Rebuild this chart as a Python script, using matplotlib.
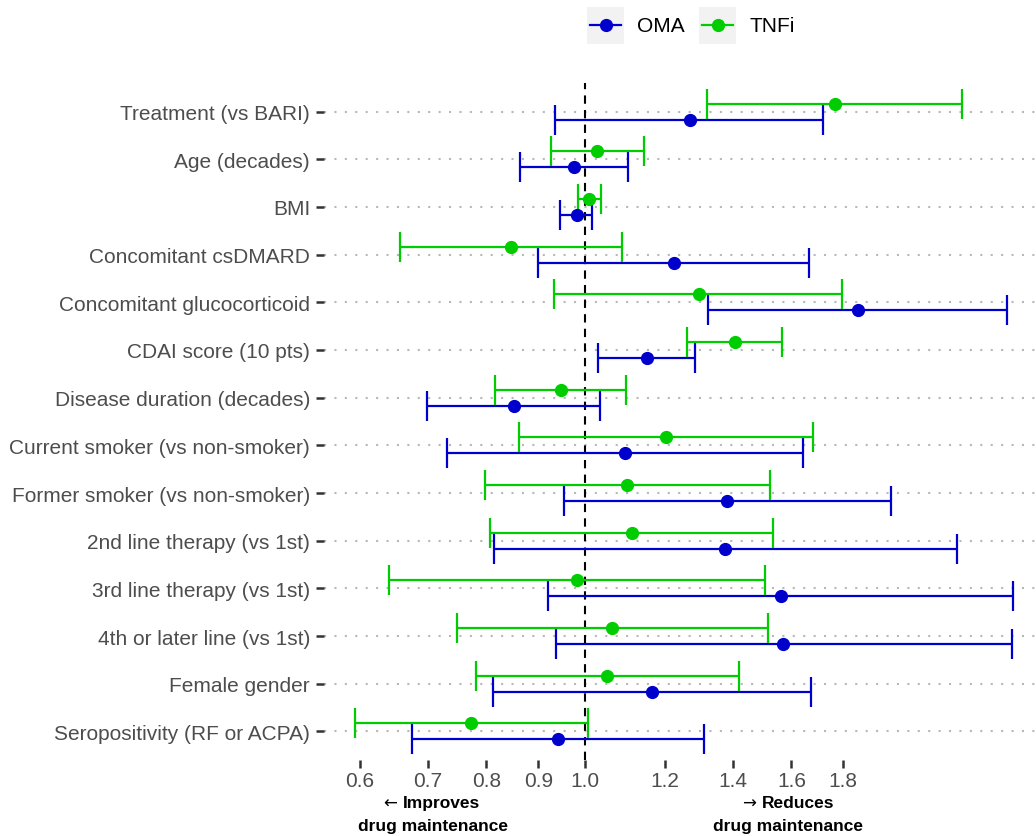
import numpy as np
import matplotlib.pyplot as plt
import matplotlib.transforms as mtransforms
from matplotlib.lines import Line2D
from matplotlib.patches import Rectangle
from matplotlib.ticker import FixedLocator, NullLocator

plt.rcParams['font.family'] = ['Liberation Sans', 'DejaVu Sans']

# covariates, top to bottom
labels = ["Treatment (vs BARI)", "Age (decades)", "BMI", "Concomitant csDMARD",
          "Concomitant glucocorticoid", "CDAI score (10 pts)", "Disease duration (decades)",
          "Current smoker (vs non-smoker)", "Former smoker (vs non-smoker)",
          "2nd line therapy (vs 1st)", "3rd line therapy (vs 1st)",
          "4th or later line (vs 1st)", "Female gender", "Seropositivity (RF or ACPA)"]

# hazard ratios with 95% CI
oma_hr = [1.27, 0.977, 0.982, 1.225, 1.86, 1.152, 0.851, 1.097, 1.382, 1.377, 1.561, 1.571, 1.166, 0.941]
oma_lo = [0.935, 0.864, 0.946, 0.900, 1.325, 1.032, 0.699, 0.732, 0.955, 0.813, 0.920, 0.936, 0.812, 0.675]
oma_hi = [1.718, 1.104, 1.018, 1.667, 2.61, 1.286, 1.035, 1.642, 2.005, 2.332, 2.649, 2.641, 1.672, 1.311]

tnf_hr = [1.766, 1.028, 1.011, 0.846, 1.296, 1.407, 0.947, 1.203, 1.101, 1.113, 0.983, 1.065, 1.053, 0.773]
tnf_lo = [1.321, 0.927, 0.984, 0.657, 0.933, 1.262, 0.816, 0.861, 0.797, 0.806, 0.641, 0.749, 0.782, 0.593]
tnf_hi = [2.359, 1.144, 1.038, 1.089, 1.796, 1.568, 1.098, 1.681, 1.523, 1.535, 1.508, 1.517, 1.419, 1.007]

xticks = [0.6, 0.7, 0.8, 0.9, 1.0, 1.2, 1.4, 1.6, 1.8]

blue = '#0000CD'
green = '#00CD00'

W, H = 1036, 837
fig = plt.figure(figsize=(W / 100, H / 100), dpi=100)
ax = fig.add_axes([324 / W, (H - 761) / H, (W - 324) / W, (761 - 84) / H])

y = np.arange(len(labels))
off = 0.17

for i in y:
    ax.axhline(i, color='#B8B8B8', lw=1.5, ls=(0, (1, 4)), zorder=0)

ax.axvline(1.0, color='black', ls=(0, (4, 3)), lw=1.5, zorder=1)

for hr, lo, hi, col, dy in [(oma_hr, oma_lo, oma_hi, blue, off),
                            (tnf_hr, tnf_lo, tnf_hi, green, -off)]:
    hr = np.array(hr)
    ax.errorbar(hr, y + dy, xerr=[hr - np.array(lo), np.array(hi) - hr],
                fmt='o', color=col, ms=8.5, elinewidth=1.6, capsize=10.5,
                capthick=1.6, zorder=3)

ax.set_xscale('log')
ax.set_xlim(0.553, 2.79)
ax.set_ylim(len(labels) - 0.4, -0.6)
ax.xaxis.set_major_locator(FixedLocator(xticks))
ax.xaxis.set_minor_locator(NullLocator())
ax.set_xticklabels([f"{v:.1f}" for v in xticks])
ax.set_yticks(y)
ax.set_yticklabels(labels)
ax.tick_params(axis='both', colors='#333333', labelcolor='#4D4D4D',
               labelsize=15, length=6, width=1.8)
ax.tick_params(axis='y', pad=4)
ax.tick_params(axis='x', pad=2)
for s in ax.spines.values():
    s.set_visible(False)

# direction notes under the axis
xt = ax.get_xaxis_transform()
arrow_tr = mtransforms.offset_copy(xt, fig=fig, x=-6, y=0, units='dots')
for word_x, mid_x, arrow, word in [(0.662, 0.708, "\u2190", "Improves"),
                                   (1.495, 1.586, "\u2192", "Reduces")]:
    ax.text(word_x, -0.070, word, transform=xt, ha='left', va='baseline',
            fontsize=12.5, fontweight='bold')
    ax.text(word_x, -0.070, arrow, transform=arrow_tr, ha='right', va='baseline',
            fontsize=12, family='DejaVu Sans')
    ax.text(mid_x, -0.086, "drug maintenance", transform=xt, ha='center', va='top',
            fontsize=12.5, fontweight='bold')

# legend drawn by hand so keys get grey backgrounds
def px(x, yy):
    return x / W, (H - yy) / H

for kx, tx, col, name in [(587, 637, blue, "OMA"), (699, 749, green, "TNFi")]:
    x0, y0 = px(kx, 45)
    fig.patches.append(Rectangle((x0, y0), 37 / W, 37 / H, transform=fig.transFigure,
                                 facecolor='#F2F2F2', edgecolor='none'))
    lx0, ly = px(kx + 3, 26)
    lx1, _ = px(kx + 34, 26)
    fig.lines.append(Line2D([lx0, lx1], [ly, ly], transform=fig.transFigure,
                            color=col, lw=1.6))
    fig.lines.append(Line2D([(lx0 + lx1) / 2], [ly], transform=fig.transFigure,
                            color=col, marker='o', ms=8.5))
    tx0, ty = px(tx, 27)
    fig.text(tx0, ty, name, fontsize=15, va='center', ha='left', color='black')

fig.savefig('out.png', dpi=100)
